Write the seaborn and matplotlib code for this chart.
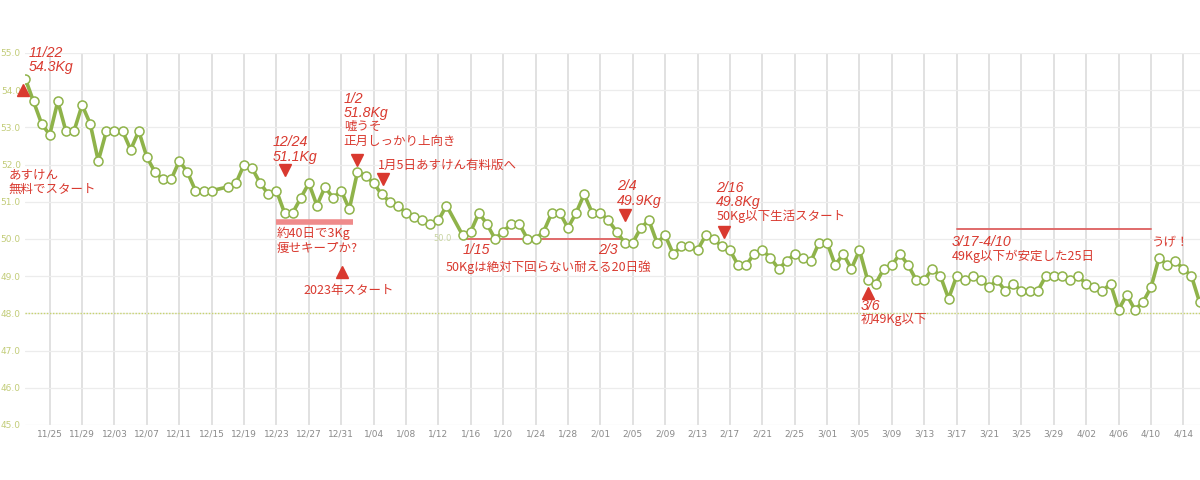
import numpy as np
import pandas as pd
import matplotlib
matplotlib.use("Agg")
import matplotlib.pyplot as plt
import matplotlib.dates as mdates
import seaborn as sns

# daily weight (kg), None = no record that day
nov = [54.3, 53.7, 53.1, 52.8, 53.7, 52.9, 52.9, 53.6, 53.1]  # 11/22-11/30
dec = [52.1, 52.9, 52.9, 52.9, 52.4, 52.9, 52.2, 51.8, 51.6, 51.6,
       52.1, 51.8, 51.3, 51.3, 51.3, None, 51.4, 51.5, 52.0, 51.9,
       51.5, 51.2, 51.3, 50.7, 50.7, 51.1, 51.5, 50.9, 51.4, 51.1, 51.3]
jan = [50.8, 51.8, 51.7, 51.5, 51.2, 51.0, 50.9, 50.7, 50.6, 50.5,
       50.4, 50.5, 50.9, None, 50.1, 50.2, 50.7, 50.4, 50.0, 50.2,
       50.4, 50.4, 50.0, 50.0, 50.2, 50.7, 50.7, 50.3, 50.7, 51.2, 50.7]
feb = [50.7, 50.5, 50.2, 49.9, 49.9, 50.3, 50.5, 49.9, 50.1, 49.6,
       49.8, 49.8, 49.7, 50.1, 50.0, 49.8, 49.7, 49.3, 49.3, 49.6,
       49.7, 49.5, 49.2, 49.4, 49.6, 49.5, 49.4, 49.9]
mar = [49.9, 49.3, 49.6, 49.2, 49.7, 48.9, 48.8, 49.2, 49.3, 49.6,
       49.3, 48.9, 48.9, 49.2, 49.0, 48.4, 49.0, 48.9, 49.0, 48.9,
       48.7, 48.9, 48.6, 48.8, 48.6, 48.6, 48.6, 49.0, 49.0, 49.0, 48.9]
apr = [49.0, 48.8, 48.7, 48.6, 48.8, 48.1, 48.5, 48.1, 48.3, 48.7,
       49.5, 49.3, 49.4, 49.2, 49.0, 48.3]  # 4/01-4/16

start = pd.Timestamp("2022-11-22")
weights = nov + dec + jan + feb + mar + apr
df = pd.DataFrame({"date": pd.date_range(start, periods=len(weights), freq="D"),
                   "kg": weights}).dropna()

GREEN = "#8fb34a"
RED = "#d9392f"
PINK = "#ef8b8b"

sns.set_theme(style="white")
plt.rcParams["font.family"] = ["Noto Sans CJK JP", "DejaVu Sans"]

fig = plt.figure(figsize=(12, 4.8), dpi=100)
ax = fig.add_axes([25 / 1200, 55 / 480, 1175 / 1200, 372 / 480])

sns.lineplot(data=df, x="date", y="kg", ax=ax, color=GREEN, linewidth=2.6,
             marker="o", markersize=6.5, markerfacecolor="white",
             markeredgecolor=GREEN, markeredgewidth=1.1, zorder=5)

ax.set_ylim(45, 55)
ax.set_xlim(mdates.date2num(start) - 0.05, mdates.date2num(pd.Timestamp("2023-04-16")) + 0.05)
ax.set_yticks(np.arange(45, 55.1, 1.0))
ax.yaxis.set_major_formatter(plt.FuncFormatter(lambda v, p: f"{v:.1f}"))
ticks = pd.date_range("2022-11-25", "2023-04-16", freq="4D")
ax.set_xticks(mdates.date2num(ticks))
ax.set_xticklabels([f"{t.month}/{t.day:02d}" for t in ticks])
ax.tick_params(axis="x", labelsize=6.5, colors="#8a8a8a", length=0, pad=3)
ax.tick_params(axis="y", labelsize=6.5, colors="#c2cc78", length=0, pad=3)
for lab in ax.get_xticklabels() + ax.get_yticklabels():
    lab.set_family(["DejaVu Sans"])
ax.set_xlabel("")
ax.set_ylabel("")
for s in ax.spines.values():
    s.set_visible(False)

# grid: strong vertical, faint horizontal
for t in ticks:
    ax.axvline(mdates.date2num(t), color="#d9d9d9", lw=1.1, zorder=1)
for y in range(45, 56):
    ax.axhline(y, color="#ececec", lw=0.9, zorder=1)
ax.axhline(48.0, color="#c8d46e", lw=1.0, ls=(0, (1, 1.2)), zorder=2)

x0 = mdates.date2num(start)


def X(day):
    return x0 + day


def note(day, top, lines, size=9, step=0.4):
    # lines: list of (text, italic)
    for i, (txt, it) in enumerate(lines):
        if it:
            ax.text(X(day), top - i * step, txt, color=RED, fontsize=size + 1.2,
                    style="italic", family=["Liberation Sans", "DejaVu Sans"],
                    va="top", ha="left", zorder=6, clip_on=False)
        else:
            ax.text(X(day), top - i * step, txt, color=RED, fontsize=size,
                    va="top", ha="left", zorder=6, clip_on=False)


def tri(day, kg, up=True):
    ax.plot(X(day), kg, marker="^" if up else "v", color=RED, markersize=8,
            linestyle="none", zorder=6, clip_on=False)


note(0.4, 55.2, [("11/22", True), ("54.3Kg", True)])
tri(-0.3, 54.0, up=True)
note(-2.1, 51.9, [("あすけん", False), ("無料でスタート", False)])

note(30.5, 52.8, [("12/24", True), ("51.1Kg", True)])
tri(32.1, 51.85, up=False)
ax.plot([X(30.9), X(40.4)], [50.47, 50.47], color=PINK, lw=4, solid_capstyle="butt", zorder=4)
note(31.0, 50.33, [("約40日で3Kg", False), ("痩せキープか?", False)])
tri(39.1, 49.1, up=True)
note(34.3, 48.8, [("2023年スタート", False)])

note(39.3, 53.95, [("1/2", True), ("51.8Kg", True), ("嘘うそ", False), ("正月しっかり上向き", False)],
     step=0.38)
tri(41.0, 52.12, up=False)
tri(44.1, 51.6, up=False)
note(43.5, 52.15, [("1月5日あすけん有料版へ", False)])

ax.text(X(52.7), 50.0, "50.0", color="#c8d4a0", fontsize=6, ha="right", va="center",
        family=["DejaVu Sans"], zorder=3)
ax.plot([X(54.0), X(73.5)], [50.0, 50.0], color="#e06a6a", lw=1.4, zorder=4)
note(54.0, 49.9, [("1/15", True)])
note(70.7, 49.9, [("2/3", True)])
note(51.9, 49.42, [("50Kgは絶対下回らない耐える20日強", False)])

note(73.1, 51.6, [("2/4", True), ("49.9Kg", True)])
tri(74.1, 50.65, up=False)

note(85.3, 51.55, [("2/16", True), ("49.8Kg", True), ("50Kg以下生活スタート", False)], step=0.38)
tri(86.3, 50.2, up=False)

tri(104.1, 48.55, up=True)
note(103.2, 48.4, [("3/6", True), ("初49Kg以下", False)], step=0.38)

ax.plot([X(115.1), X(139.0)], [50.27, 50.27], color="#e06a6a", lw=1.4, zorder=4)
note(114.4, 50.1, [("3/17-4/10", True), ("49Kg以下が安定した25日", False)], step=0.38)
note(139.1, 50.07, [("うげ！", False)])

fig.savefig("out.png", dpi=100, facecolor="white")
